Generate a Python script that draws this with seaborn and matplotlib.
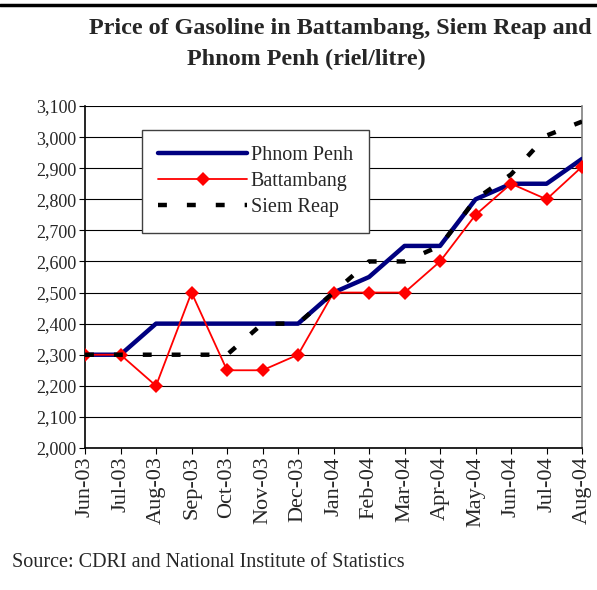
# Price of gasoline in Battambang, Siem Reap and Phnom Penh
import pandas as pd
import matplotlib.pyplot as plt
import seaborn as sns
from matplotlib.lines import Line2D

# Data (riel/litre)
months = ["Jun-03", "Jul-03", "Aug-03", "Sep-03", "Oct-03", "Nov-03", "Dec-03",
          "Jan-04", "Feb-04", "Mar-04", "Apr-04", "May-04", "Jun-04", "Jul-04", "Aug-04"]
phnom_penh = [2300, 2300, 2400, 2400, 2400, 2400, 2400, 2500, 2550, 2650, 2650, 2800, 2850, 2850, 2930]
battambang = [2300, 2300, 2200, 2500, 2250, 2250, 2300, 2500, 2500, 2500, 2600, 2750, 2850, 2800, 2905]
siem_reap = [2300, 2300, 2300, 2300, 2300, 2400, 2400, 2500, 2600, 2600, 2650, 2800, 2880, 3005, 3050]
y_ticks = list(range(2000, 3101, 100))

df = pd.DataFrame({"idx": range(len(months)), "Month": months,
                   "Phnom Penh": phnom_penh, "Battambang": battambang, "Siem Reap": siem_reap})

sns.set_style("white")
plt.rcParams["font.family"] = ["Liberation Serif", "DejaVu Serif"]

fig = plt.figure(figsize=(5.97, 5.90), dpi=100)
ax = fig.add_axes([0.1424, 0.2407, 0.8326, 0.5796])

# Plot the three series
sns.lineplot(data=df, x="idx", y="Phnom Penh", ax=ax, color="#000080", linewidth=3.2,
             label="Phnom Penh", zorder=3)
sns.lineplot(data=df, x="idx", y="Battambang", ax=ax, color="#ff0000", linewidth=1.3,
             marker="D", markersize=7, markeredgewidth=0, label="Battambang", zorder=4)
sns.lineplot(data=df, x="idx", y="Siem Reap", ax=ax, color="black", linewidth=3.2,
             linestyle=(0, (2, 4.5)), label="Siem Reap", zorder=5)

# Axes styling
ax.set_xlim(0, len(months) - 1)
ax.set_ylim(2000, 3100)
ax.set_yticks(y_ticks)
ax.set_yticklabels([f"{v:,}" for v in y_ticks], fontsize=13)
ax.set_xticks(range(len(months)))
ax.set_xticklabels(months, rotation=90, fontsize=16)
ax.set_xlabel("")
ax.set_ylabel("")
ax.yaxis.grid(True, color="black", linewidth=0.8)
ax.tick_params(axis="both", direction="out", length=4, width=0.8, color="black",
               left=True, bottom=True, pad=2)
ax.spines["left"].set_color("black")
ax.spines["bottom"].set_color("black")
ax.spines["right"].set_color("#808080")
ax.spines["top"].set_visible(False)
for s in ["left", "bottom", "right"]:
    ax.spines[s].set_linewidth(1.2)

leg = ax.legend(loc="upper left", bbox_to_anchor=(0.115, 0.930), fontsize=14.5,
                frameon=True, fancybox=False, edgecolor="#404040", framealpha=1,
                handlelength=4.4, handletextpad=0.2, labelspacing=0.34,
                borderpad=0.8, borderaxespad=0)
leg.get_frame().set_linewidth(1.0)

# Title, page rule and source
fig.add_artist(Line2D([0, 1], [0.992, 0.992], color="black", linewidth=2.5))
fig.text(0.57, 0.952, "Price of Gasoline in Battambang, Siem Reap and",
         ha="center", va="center", fontsize=17.4, fontweight="bold")
fig.text(0.513, 0.900, "Phnom Penh (riel/litre)",
         ha="center", va="center", fontsize=17.4, fontweight="bold")
fig.text(0.02, 0.047, "Source: CDRI and National Institute of Statistics",
         ha="left", va="center", fontsize=14.5)

plt.savefig("out.png", dpi=100)
